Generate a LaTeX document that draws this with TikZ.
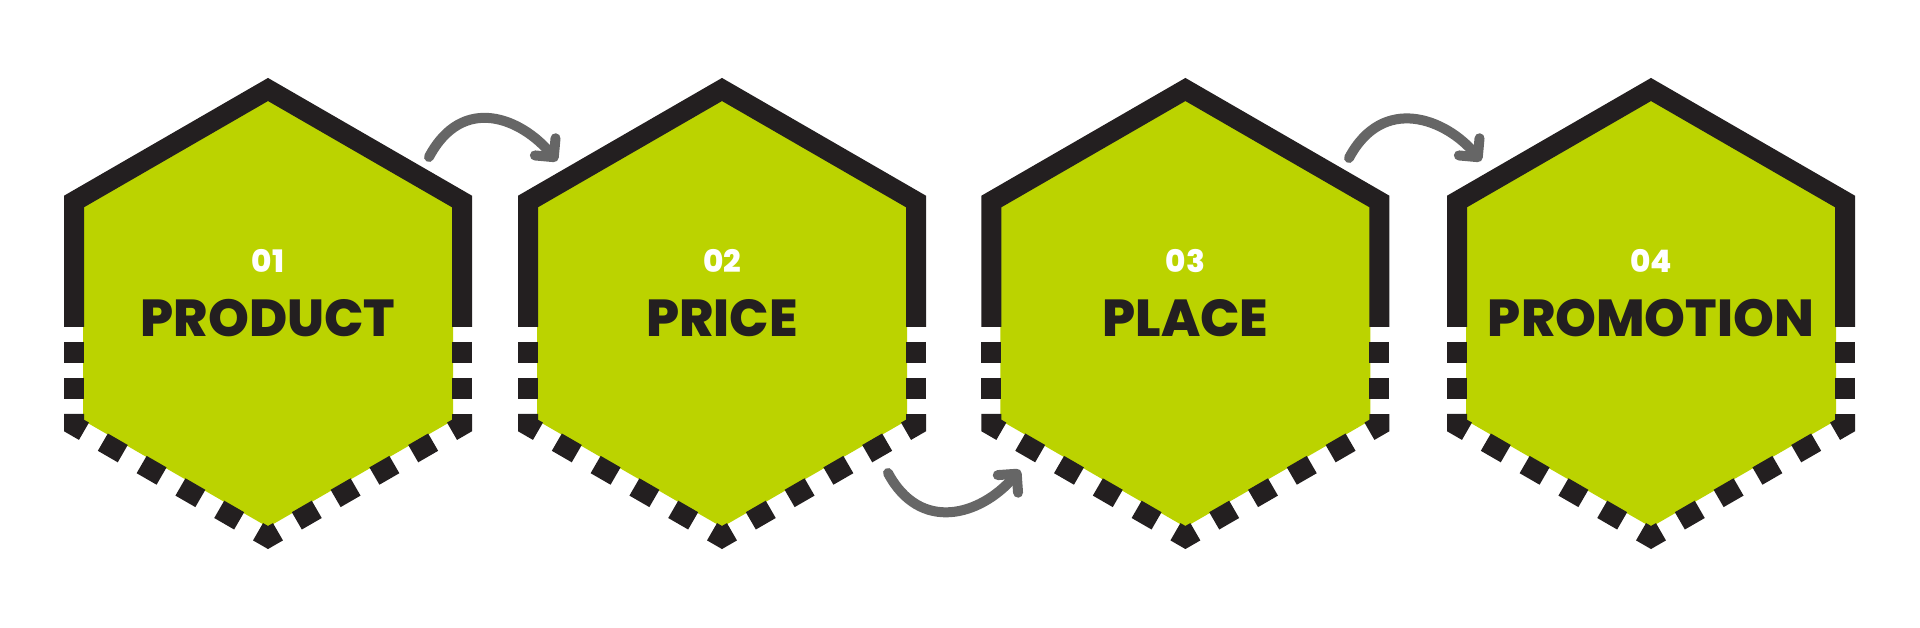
\documentclass[tikz,border=0pt]{standalone}
\usepackage{fontspec}
\setmainfont{Poppins}[BoldFont={* ExtraBold}]
\usepackage{tikz}
\usetikzlibrary{arrows.meta}
\definecolor{lime}{HTML}{BBD300}
\definecolor{ink}{HTML}{231F20}
\definecolor{arrowgray}{HTML}{666666}
\tikzset{
  hexfill/.style={fill=lime},
  solidrim/.style={draw=ink, line width=20pt, line join=miter},
  dashrim/.style={draw=ink, line width=20pt, line join=miter, dash pattern=on 23pt off 21.8pt},
  siderim/.style={draw=ink, line width=20pt, dash pattern=on 21.5pt off 14.5pt},
  numlab/.style={text=white, font=\fontsize{31}{31}\selectfont\bfseries, anchor=base},
  titlelab/.style={text=ink, font=\fontsize{52}{52}\selectfont\bfseries, anchor=base},
  flow/.style={draw=arrowgray, line width=10pt, line cap=round, -{Straight Barb[angle=90:19pt, round]}},
}

\begin{document}
\begin{tikzpicture}[x=1pt, y=1pt]
\useasboundingbox (0,0) rectangle (1920,627);

% hexagon 1
\begin{scope}[shift={(268,313.5)}]
\fill[hexfill] (0,213.6) -- (185,106.8) -- (185,-106.8) -- (0,-213.6) -- (-185,-106.8) -- (-185,106.8) -- cycle;
\draw[solidrim] (-194,-13.5) -- (-194,112) -- (0,224) -- (194,112) -- (194,-13.5);
\draw[siderim] (-194,-28.5) -- (-194,-86.5);
\draw[siderim] (194,-28.5) -- (194,-86.5);
\draw[dashrim] (-194,-100.5) -- (-194,-112) -- (0,-224) -- (194,-112) -- (194,-100.5);
\node[numlab] (n1) at (0,40.5) {01};
\node[titlelab] (t1) at (0,-23.5) {PRODUCT};
\end{scope}

% hexagon 2
\begin{scope}[shift={(722,313.5)}]
\fill[hexfill] (0,213.6) -- (185,106.8) -- (185,-106.8) -- (0,-213.6) -- (-185,-106.8) -- (-185,106.8) -- cycle;
\draw[solidrim] (-194,-13.5) -- (-194,112) -- (0,224) -- (194,112) -- (194,-13.5);
\draw[siderim] (-194,-28.5) -- (-194,-86.5);
\draw[siderim] (194,-28.5) -- (194,-86.5);
\draw[dashrim] (-194,-100.5) -- (-194,-112) -- (0,-224) -- (194,-112) -- (194,-100.5);
\node[numlab] (n2) at (0,40.5) {02};
\node[titlelab] (t2) at (0,-23.5) {PRICE};
\end{scope}

% hexagon 3
\begin{scope}[shift={(1185.4,313.5)}]
\fill[hexfill] (0,213.6) -- (185,106.8) -- (185,-106.8) -- (0,-213.6) -- (-185,-106.8) -- (-185,106.8) -- cycle;
\draw[solidrim] (-194,-13.5) -- (-194,112) -- (0,224) -- (194,112) -- (194,-13.5);
\draw[siderim] (-194,-28.5) -- (-194,-86.5);
\draw[siderim] (194,-28.5) -- (194,-86.5);
\draw[dashrim] (-194,-100.5) -- (-194,-112) -- (0,-224) -- (194,-112) -- (194,-100.5);
\node[numlab] (n3) at (0,40.5) {03};
\node[titlelab] (t3) at (0,-23.5) {PLACE};
\end{scope}

% hexagon 4
\begin{scope}[shift={(1651,313.5)}]
\fill[hexfill] (0,213.6) -- (185,106.8) -- (185,-106.8) -- (0,-213.6) -- (-185,-106.8) -- (-185,106.8) -- cycle;
\draw[solidrim] (-194,-13.5) -- (-194,112) -- (0,224) -- (194,112) -- (194,-13.5);
\draw[siderim] (-194,-28.5) -- (-194,-86.5);
\draw[siderim] (194,-28.5) -- (194,-86.5);
\draw[dashrim] (-194,-100.5) -- (-194,-112) -- (0,-224) -- (194,-112) -- (194,-100.5);
\node[numlab] (n4) at (0,40.5) {04};
\node[titlelab] (t4) at (0,-23.5) {PROMOTION};
\end{scope}

% arrows
\coordinate (a1s) at (429,470);
\coordinate (a1e) at (557,466);
\coordinate (a2s) at (888,154);
\coordinate (a2e) at (1020,157);
\coordinate (a3s) at (1349,469);
\coordinate (a3e) at (1481,466);
\draw[flow] (a1s) .. controls +(34,64) and +(-35,42) .. (a1e);
\draw[flow] (a2s) .. controls +(32,-60) and +(-40,-46) .. (a2e);
\draw[flow] (a3s) .. controls +(34,64) and +(-35,42) .. (a3e);
\end{tikzpicture}
\end{document}
